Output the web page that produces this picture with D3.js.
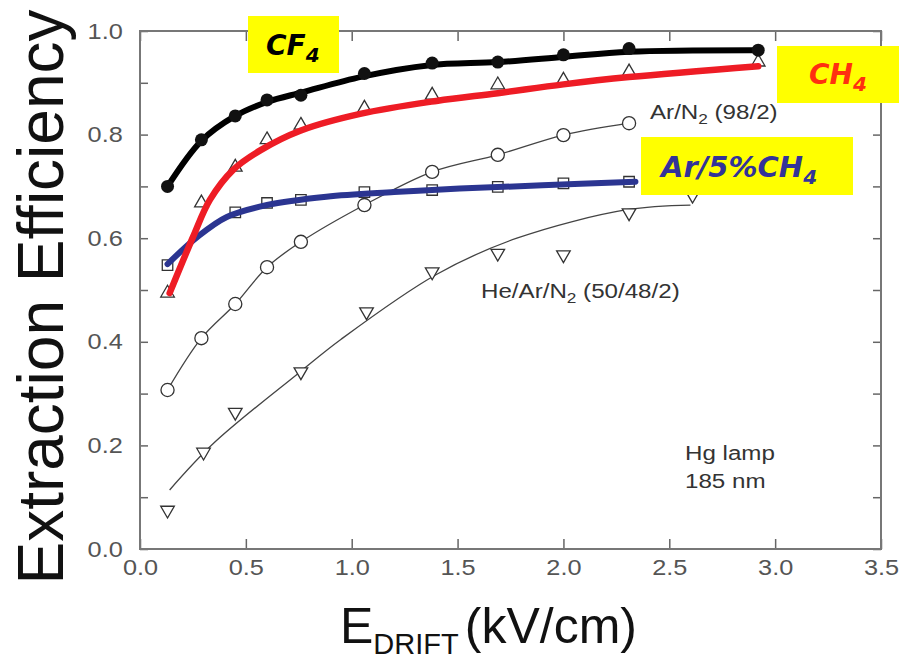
<!DOCTYPE html>
<html>
<head>
<meta charset="utf-8">
<script src="https://cdnjs.cloudflare.com/ajax/libs/d3/7.8.5/d3.min.js"></script>
<style>
  body { margin: 0; background: #fff; }
</style>
</head>
<body>
<div id="chart"></div>
<script>
// ---- data ----
var xTicks = [0, 0.5, 1.0, 1.5, 2.0, 2.5, 3.0, 3.5];
var yTicks = [0, 0.1, 0.2, 0.3, 0.4, 0.5, 0.6, 0.7, 0.8, 0.9, 1.0];

// CF4 (filled circles) and CH4 (open triangles) share the field values
var fieldMain = [0.13, 0.29, 0.45, 0.60, 0.76, 1.06, 1.38, 1.69, 2.00, 2.31, 2.92];
var cf4 = [0.700, 0.790, 0.836, 0.867, 0.876, 0.918, 0.938, 0.940, 0.954, 0.966, 0.963];
var ch4 = [0.494, 0.668, 0.737, 0.790, 0.818, 0.851, 0.876, 0.896, 0.905, 0.921, 0.940];

// Ar/5%CH4 (open squares)
var fieldArCh4 = [0.13, 0.45, 0.60, 0.76, 1.06, 1.38, 1.69, 2.00, 2.31];
var arCh4 = [0.548, 0.650, 0.668, 0.674, 0.689, 0.693, 0.699, 0.706, 0.709];

// Ar/N2 (98/2) (open circles)
var fieldArN2 = [0.13, 0.29, 0.45, 0.60, 0.76, 1.06, 1.38, 1.69, 2.00, 2.31];
var arN2 = [0.307, 0.407, 0.473, 0.544, 0.593, 0.664, 0.728, 0.761, 0.799, 0.822];

// He/Ar/N2 (50/48/2) (open inverted triangles)
var fieldHe = [0.13, 0.30, 0.45, 0.76, 1.07, 1.38, 1.69, 2.00, 2.31, 2.61];
var heArN2 = [0.075, 0.187, 0.264, 0.342, 0.458, 0.535, 0.571, 0.568, 0.649, 0.683];

// hand drawn fit curves
var cf4FitX = [0.13, 0.29, 0.45, 0.60, 0.77, 1.05, 1.37, 1.69, 2.00, 2.31, 2.92];
var cf4FitY = [0.700, 0.788, 0.836, 0.863, 0.882, 0.912, 0.934, 0.940, 0.950, 0.960, 0.963];
var ch4FitX = [0.14, 0.25, 0.33, 0.44, 0.57, 0.76, 1.04, 1.40, 1.69, 2.00, 2.31, 2.92];
var ch4FitY = [0.494, 0.602, 0.674, 0.732, 0.770, 0.808, 0.840, 0.865, 0.880, 0.897, 0.911, 0.932];
var arCh4FitX = [0.13, 0.27, 0.41, 0.60, 0.88, 1.20, 1.51, 1.90, 2.34];
var arCh4FitY = [0.550, 0.602, 0.641, 0.664, 0.680, 0.689, 0.696, 0.702, 0.709];
var heFitX = [0.14, 0.35, 0.75, 0.95, 1.40, 1.78, 2.30, 2.60];
var heFitY = [0.114, 0.205, 0.340, 0.405, 0.530, 0.600, 0.655, 0.664];

function zip(xs, ys) { return xs.map(function (v, i) { return [v, ys[i]]; }); }

var w = 899, h = 659;
var padL = 140, padR = 881, padT = 31, padB = 549;

var svg = d3.select("#chart").append("svg")
    .attr("width", w)
    .attr("height", h)
    .attr("viewBox", "0 0 " + w + " " + h)
    .style("font-family", "'Liberation Sans', Arial, sans-serif");

svg.append("rect").attr("width", w).attr("height", h).attr("fill", "#fff");

var x = d3.scaleLinear().domain([0, 3.5]).range([padL, padR]);
var y = d3.scaleLinear().domain([0, 1.0]).range([padB, padT]);

// ---- axes (ticks point inwards) ----
function styleAxis(g) {
    g.select(".domain").remove();
    g.selectAll(".tick line").attr("stroke", "#666").attr("stroke-width", 1.5);
    g.selectAll(".tick text").attr("fill", "#555").style("font-size", "22px");
}

svg.append("g")
    .attr("transform", "translate(0," + padB + ")")
    .call(d3.axisBottom(x).tickValues(xTicks).tickSizeInner(-10).tickSizeOuter(0)
        .tickPadding(10).tickFormat(d3.format(".1f")))
    .call(styleAxis)
    .selectAll(".tick text").attr("transform", "scale(1.15,1)");

svg.append("g")
    .attr("transform", "translate(0," + padT + ")")
    .call(d3.axisTop(x).tickValues(xTicks).tickSizeInner(-10).tickSizeOuter(0).tickFormat(""))
    .call(styleAxis);

svg.append("g")
    .attr("transform", "translate(" + padL + ",0)")
    .call(d3.axisLeft(y).tickValues(yTicks).tickSizeInner(-8).tickSizeOuter(0).tickPadding(15)
        .tickFormat(function (d) { return Math.round(d * 10) % 2 === 0 ? d3.format(".1f")(d) : ""; }))
    .call(styleAxis)
    .selectAll(".tick text").attr("transform", "scale(1.15,1)");

svg.append("g")
    .attr("transform", "translate(" + padR + ",0)")
    .call(d3.axisRight(y).tickValues(yTicks).tickSizeInner(-8).tickSizeOuter(0).tickFormat(""))
    .call(styleAxis);

svg.append("rect")
    .attr("x", padL).attr("y", padT)
    .attr("width", padR - padL).attr("height", padB - padT)
    .attr("fill", "none").attr("stroke", "#777").attr("stroke-width", 2);

// ---- thin data lines ----
var smooth = d3.line().x(function (d) { return x(d[0]); }).y(function (d) { return y(d[1]); })
    .curve(d3.curveCatmullRom.alpha(0.5));

svg.append("path").datum(zip(fieldArN2, arN2))
    .attr("d", smooth).attr("fill", "none").attr("stroke", "#444").attr("stroke-width", 1.3);
svg.append("path").datum(zip(heFitX, heFitY))
    .attr("d", smooth).attr("fill", "none").attr("stroke", "#444").attr("stroke-width", 1.3);

// ---- open markers ----
function markers(xs, ys, type, size, rot) {
    svg.append("g").selectAll("path")
        .data(zip(xs, ys))
        .join("path")
        .attr("d", d3.symbol().type(type).size(size))
        .attr("transform", function (d) {
            return "translate(" + x(d[0]) + "," + y(d[1]) + ")" + (rot ? " rotate(" + rot + ")" : "");
        })
        .attr("fill", "#fff")
        .attr("stroke", "#333")
        .attr("stroke-width", 1.3);
}
markers(fieldArN2, arN2, d3.symbolCircle, 135, 0);
markers(fieldHe, heArN2, d3.symbolTriangle, 80, 180);
markers(fieldMain, ch4, d3.symbolTriangle, 80, 0);
markers(fieldArCh4, arCh4, d3.symbolSquare, 110, 0);

// ---- thick coloured lines ----
svg.append("path").datum(zip(arCh4FitX, arCh4FitY))
    .attr("d", smooth).attr("fill", "none").attr("stroke", "#2b3591").attr("stroke-width", 6)
    .attr("stroke-linecap", "round");
svg.append("path").datum(zip(ch4FitX, ch4FitY))
    .attr("d", smooth).attr("fill", "none").attr("stroke", "#ee1c25").attr("stroke-width", 6.5)
    .attr("stroke-linecap", "round");
svg.append("path").datum(zip(cf4FitX, cf4FitY))
    .attr("d", smooth).attr("fill", "none").attr("stroke", "#000").attr("stroke-width", 6)
    .attr("stroke-linecap", "round");

svg.append("g").selectAll("circle")
    .data(zip(fieldMain, cf4))
    .join("circle")
    .attr("cx", function (d) { return x(d[0]); })
    .attr("cy", function (d) { return y(d[1]); })
    .attr("r", 6.5)
    .attr("fill", "#111");

// ---- in-plot annotations ----
function note(px, py, parts) {
    var t = svg.append("g")
        .attr("transform", "translate(" + px + "," + py + ") scale(1.15,1)")
        .append("text")
        .attr("fill", "#333")
        .style("font-size", "21px");
    parts.forEach(function (p) {
        t.append("tspan").text(p[0]).attr("dy", p[1])
            .style("font-size", p[2] || null);
    });
}
note(650, 119, [["Ar/N", 0], ["2", 5, "15px"], [" (98/2)", -5]]);
note(481, 298, [["He/Ar/N", 0], ["2", 5, "15px"], [" (50/48/2)", -5]]);
note(685, 460, [["Hg lamp", 0]]);
note(685, 488, [["185 nm", 0]]);

// ---- yellow call-out boxes ----
function tag(bx, by, bw, bh, tx, ty, main, sub, colour, size) {
    svg.append("rect")
        .attr("x", bx).attr("y", by).attr("width", bw).attr("height", bh)
        .attr("fill", "#ffff00");
    var t = svg.append("text")
        .attr("x", tx).attr("y", ty)
        .attr("fill", colour)
        .style("font-family", "'Comic Sans MS', 'DejaVu Sans', sans-serif")
        .style("font-weight", "bold")
        .style("font-style", "italic")
        .style("font-size", size + "px");
    t.append("tspan").text(main);
    t.append("tspan").text(sub).attr("dy", 7).style("font-size", Math.round(size * 0.7) + "px");
}
tag(248, 16, 91, 57, 266, 55, "CF", "4", "#000", 28);
tag(777, 46, 122, 57, 809, 84, "CH", "4", "#ff3010", 28);
tag(641, 137, 212, 58, 661, 177, "Ar/5%CH", "4", "#333399", 29);

// ---- axis titles ----
var xt = svg.append("text")
    .attr("x", 340).attr("y", 643)
    .attr("fill", "#111")
    .style("font-size", "50px");
xt.append("tspan").text("E");
xt.append("tspan").text("DRIFT").attr("dy", 11).style("font-size", "29px");
xt.append("tspan").text("(kV/cm)").attr("dy", -11).attr("dx", 6);

svg.append("text")
    .attr("transform", "translate(63,297) rotate(-90)")
    .attr("text-anchor", "middle")
    .attr("fill", "#111")
    .style("font-size", "64px")
    .text("Extraction Efficiency");
</script>
</body>
</html>
